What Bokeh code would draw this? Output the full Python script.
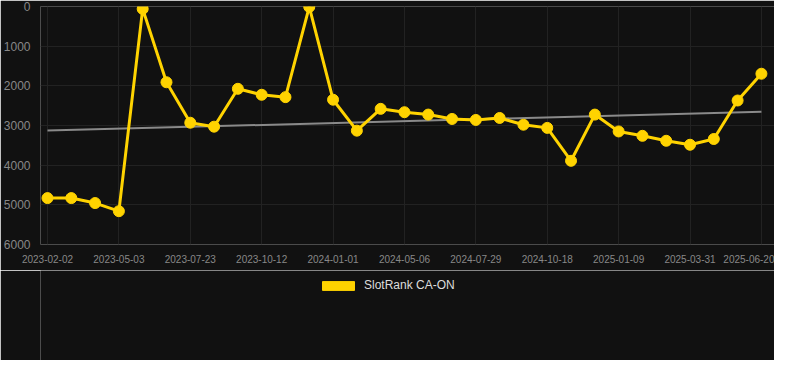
import numpy as np
from bokeh.plotting import figure
from bokeh.layouts import column
from bokeh.models import Range1d, Legend, LegendItem, FixedTicker
from bokeh.embed import file_html
from bokeh.resources import INLINE

# Every third observation carries a date label on the x axis
tick_labels = ["2023-02-02", "2023-05-03", "2023-07-23", "2023-10-12", "2024-01-01",
               "2024-05-06", "2024-07-29", "2024-10-18", "2025-01-09", "2025-03-31",
               "2025-06-20"]
series_name = "SlotRank CA-ON"
ranks = [4830, 4830, 4955, 5160, 60, 1910, 2930, 3030, 2075, 2225,
         2285, 10, 2350, 3130, 2580, 2665, 2725, 2835, 2860, 2810,
         2980, 3060, 3890, 2725, 3150, 3260, 3385, 3485, 3340, 2370,
         1695]
y_ticks = [0, 1000, 2000, 3000, 4000, 5000, 6000]

idx = np.arange(len(ranks))
slope, intercept = np.polyfit(idx, ranks, 1)
trend_x = [idx[0], idx[-1]]
trend_y = [intercept + slope * idx[0], intercept + slope * idx[-1]]

BG = "#111111"
GOLD = "#FFD300"

main = figure(width=774, height=270, output_backend="svg", toolbar_location=None,
              x_range=Range1d(-0.294, 30.55), y_range=Range1d(6000, 0),
              background_fill_color=BG, border_fill_color=BG, outline_line_color=None,
              min_border_left=40, min_border_right=0, min_border_top=6, min_border_bottom=26)

main.xgrid.grid_line_color = "#222222"
main.ygrid.grid_line_color = "#222222"

tick_pos = list(range(0, len(ranks), 3))
main.xaxis.ticker = FixedTicker(ticks=tick_pos)
main.xaxis.major_label_overrides = {t: lab for t, lab in zip(tick_pos, tick_labels)}
main.yaxis.ticker = FixedTicker(ticks=y_ticks)

for ax in (main.xaxis[0], main.yaxis[0]):
    ax.axis_line_color = None
    ax.major_tick_line_color = None
    ax.minor_tick_line_color = None
    ax.major_label_text_color = "#888888"
    ax.major_label_text_font = "Liberation Sans"
main.xaxis.major_label_text_font_size = "10px"
main.yaxis.major_label_text_font_size = "12px"
main.xaxis.major_label_standoff = 4
main.yaxis.major_label_standoff = 4

main.line(trend_x, trend_y, line_color="#8a8a8a", line_width=2)
main.line(idx, ranks, line_color=GOLD, line_width=3)
main.scatter(idx, ranks, size=11, fill_color=GOLD, line_color=GOLD)

# legend strip below the chart
leg = figure(width=774, height=90, output_backend="svg", toolbar_location=None,
             x_range=Range1d(0, 1), y_range=Range1d(0, 1),
             background_fill_color=BG, border_fill_color=BG, outline_line_color=None,
             min_border_left=40, min_border_right=0, min_border_top=0, min_border_bottom=0)
leg.axis.visible = False
leg.grid.visible = False
legend_r = leg.quad(left=[np.nan], right=[np.nan], top=[np.nan], bottom=[np.nan],
                    fill_color=GOLD, line_color=GOLD)
legend = Legend(items=[LegendItem(label=series_name, renderers=[legend_r])],
                orientation="horizontal", location=(278, 68),
                background_fill_alpha=0, border_line_color=None,
                label_text_color="#dddddd", label_text_font="Liberation Sans",
                label_text_font_size="12px", glyph_width=40, glyph_height=11,
                margin=0, padding=4, label_standoff=6)
leg.add_layout(legend)

p = column(main, leg, spacing=0)

open("out.html", "w").write(file_html(p, INLINE))
